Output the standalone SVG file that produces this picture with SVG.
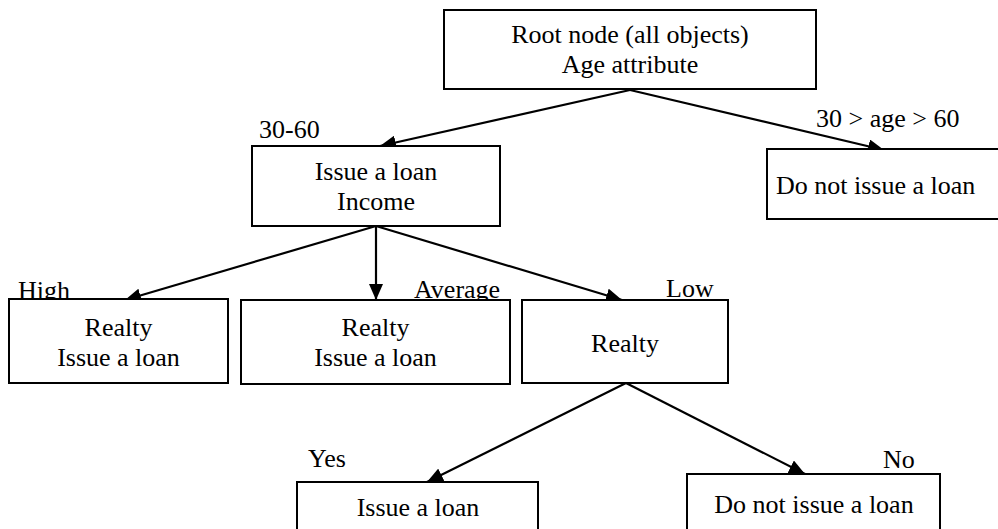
<svg xmlns="http://www.w3.org/2000/svg" width="998" height="529" viewBox="0 0 998 529">
<defs>
<style>
.box{fill:#ffffff;stroke:#000000;stroke-width:2}
.t{font-family:'Liberation Serif','Times New Roman',Times,'DejaVu Serif',serif;font-size:26px;fill:#000000}
.c{text-anchor:middle}
.edge{stroke:#000000;stroke-width:2.2;fill:none;marker-end:url(#arr)}
</style>
<marker id="arr" markerUnits="userSpaceOnUse" markerWidth="18" markerHeight="14" refX="16" refY="7" orient="auto">
<path d="M0,0 L16,7 L0,14 Z" fill="#000000"/>
</marker>
</defs>
<rect width="998" height="529" fill="#ffffff"/>
<g id="connectors">
<line class="edge" x1="630" y1="90" x2="380" y2="146"/>
<line class="edge" x1="630" y1="90" x2="884" y2="150"/>
<line class="edge" x1="376" y1="226" x2="125" y2="300"/>
<line class="edge" x1="376" y1="226" x2="376" y2="300"/>
<line class="edge" x1="376" y1="226" x2="622" y2="300"/>
<line class="edge" x1="626" y1="383" x2="427" y2="482"/>
<line class="edge" x1="626" y1="383" x2="805" y2="474"/>
</g>
<g id="labels" font-family="'Liberation Serif', serif">
<text class="t" x="259" y="138">30-60</text>
<text class="t" x="816" y="127">30 &gt; age &gt; 60</text>
<text class="t" x="18" y="299">High</text>
<text class="t" x="414" y="298">Average</text>
<text class="t" x="666" y="297">Low</text>
<text class="t" x="308" y="467">Yes</text>
<text class="t" x="883" y="468">No</text>
</g>
<g id="root">
<rect class="box" x="444" y="10" width="372" height="79"/>
<text class="t c" x="630" y="43">Root node (all objects)</text>
<text class="t c" x="630" y="73">Age attribute</text>
</g>
<g id="income">
<rect class="box" x="252" y="146" width="248" height="80"/>
<text class="t c" x="376" y="180">Issue a loan</text>
<text class="t c" x="376" y="210">Income</text>
</g>
<g id="reject-age">
<rect class="box" x="767" y="149" width="240" height="70"/>
<text class="t" x="776" y="194">Do not issue a loan</text>
</g>
<g id="high">
<rect class="box" x="9" y="299" width="219" height="84"/>
<text class="t c" x="118.5" y="336">Realty</text>
<text class="t c" x="118.5" y="366">Issue a loan</text>
</g>
<g id="average">
<rect class="box" x="241" y="300" width="269" height="84"/>
<text class="t c" x="375.5" y="336">Realty</text>
<text class="t c" x="375.5" y="366">Issue a loan</text>
</g>
<g id="low">
<rect class="box" x="522" y="300" width="206" height="83"/>
<text class="t c" x="625" y="352">Realty</text>
</g>
<g id="yes">
<rect class="box" x="297" y="482" width="241" height="60"/>
<text class="t c" x="418" y="516">Issue a loan</text>
</g>
<g id="no">
<rect class="box" x="687" y="474" width="253" height="68"/>
<text class="t c" x="814" y="513">Do not issue a loan</text>
</g>
</svg>
